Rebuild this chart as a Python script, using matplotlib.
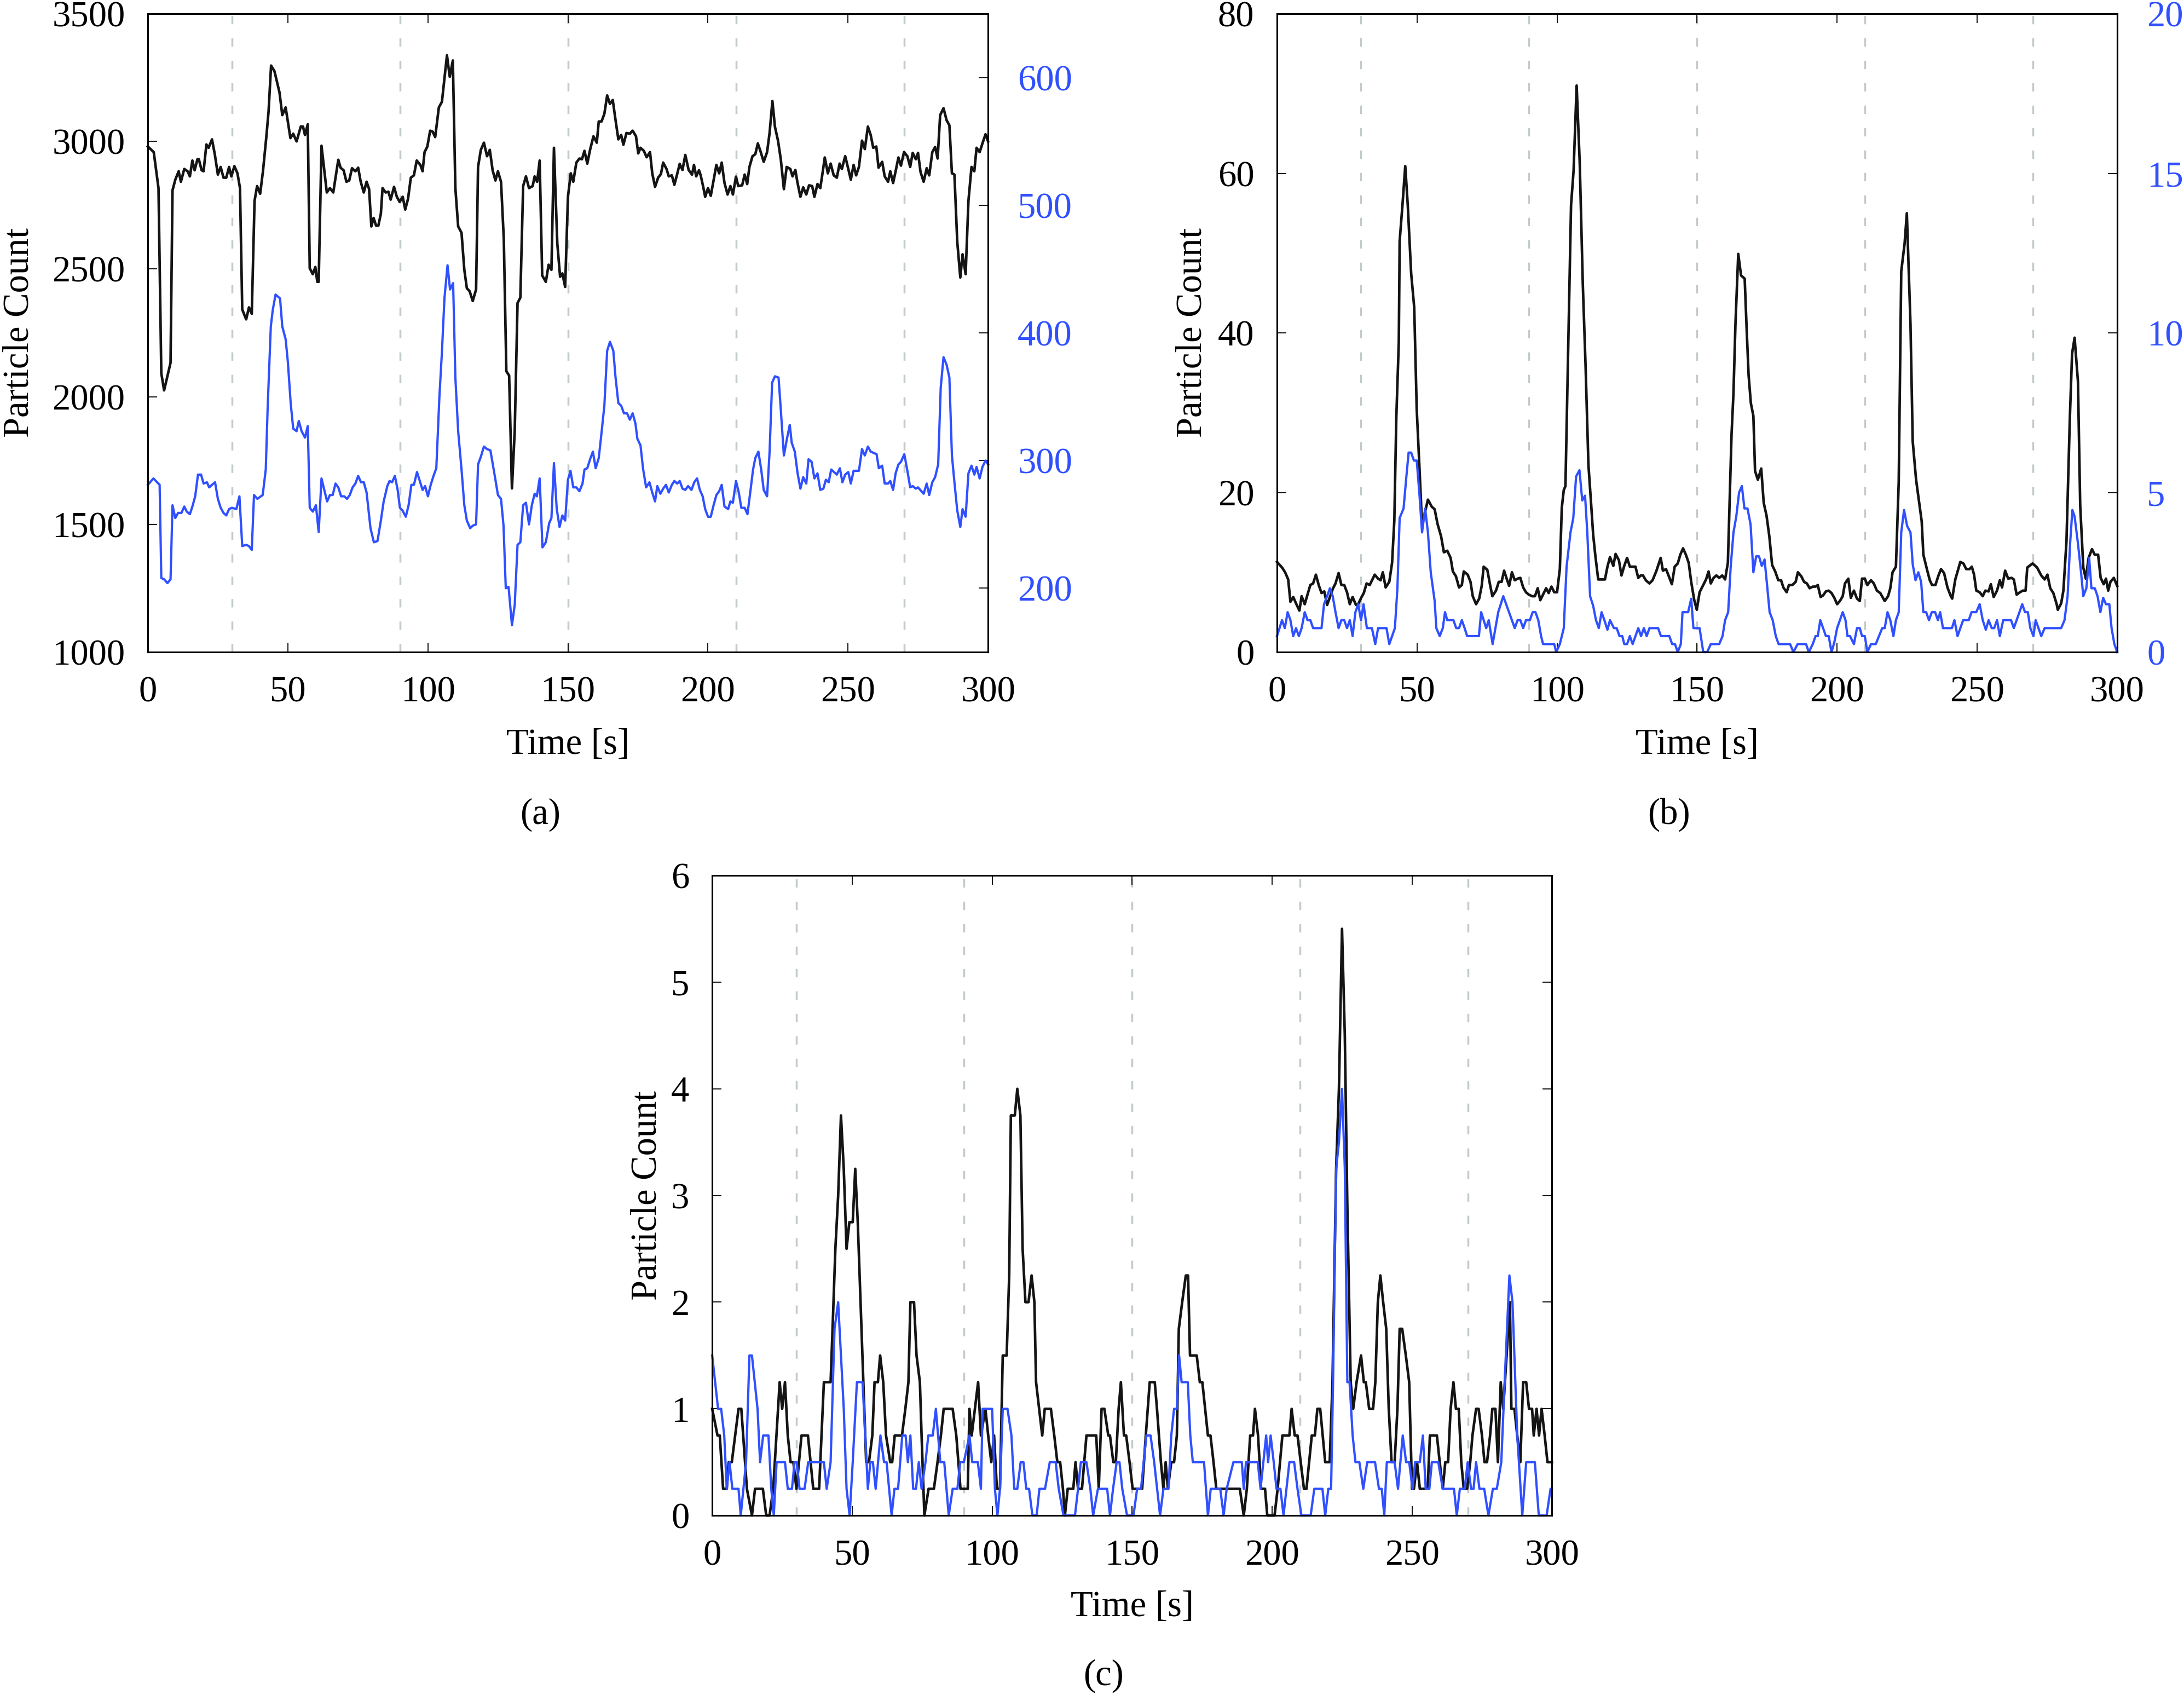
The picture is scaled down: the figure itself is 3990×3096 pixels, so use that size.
import numpy as np
import matplotlib
matplotlib.use('Agg')
import matplotlib.pyplot as plt

plt.rcParams['font.family'] = 'Liberation Serif'
plt.rcParams['font.size'] = 48

BLACK = '#141414'
BLUE = '#3050ff'
GREY = '#c3cacb'

# vertical event markers [s]
events = [30, 90, 150, 210, 270]

# (a) left axis (black) and right axis (blue): (time [s], count)
a_black = [
    (0, 2980), (2.1, 2958), (3.8, 2817), (4.8, 2092), (5.8, 2025), (8.1, 2133), (8.8, 2808),
    (9.8, 2850), (11.0, 2883), (11.8, 2842), (13.0, 2892), (14.2, 2883), (15.0, 2863),
    (15.9, 2925), (16.7, 2887), (17.7, 2930), (18.2, 2930), (19.2, 2887), (19.9, 2883),
    (20.9, 2988), (21.7, 2975), (22.9, 3008), (23.9, 2950), (25.0, 2870), (26.0, 2900),
    (27.0, 2858), (28.0, 2858), (29.0, 2900), (29.8, 2863), (30.9, 2903), (32.0, 2875),
    (32.9, 2817), (33.7, 2342), (35.1, 2303), (36.1, 2350), (37.1, 2325), (38.1, 2767),
    (39.0, 2825), (40.1, 2795), (41.1, 2883), (42.3, 3017), (43.1, 3117), (44.0, 3297),
    (45.2, 3275), (47.0, 3192), (48.0, 3103), (49.2, 3133), (50.9, 3013), (51.9, 3030),
    (53.1, 3000), (54.6, 3058), (55.4, 3058), (56.1, 3025), (57.1, 3067), (57.8, 2503),
    (58.9, 2480), (59.8, 2508), (60.5, 2450), (61.0, 2450), (62.0, 2983), (63.9, 2800),
    (65.0, 2817), (66.2, 2800), (68.0, 2928), (68.8, 2897), (69.9, 2887), (70.9, 2842),
    (71.9, 2847), (72.9, 2895), (74.1, 2883), (75.1, 2897), (76.0, 2842), (77.1, 2800),
    (78.1, 2842), (79.0, 2813), (79.8, 2667), (80.6, 2700), (81.5, 2670), (82.3, 2670),
    (83.2, 2717), (83.8, 2817), (84.9, 2800), (85.9, 2803), (86.7, 2772), (87.9, 2822),
    (88.9, 2783), (89.9, 2763), (91.0, 2783), (91.9, 2733), (92.9, 2775), (93.9, 2858),
    (95.0, 2867), (96.0, 2925), (97.3, 2908), (98.1, 2883), (98.8, 2958), (99.8, 2980),
    (100.8, 3042), (101.7, 3038), (102.6, 3017), (103.9, 3133), (105.0, 3155), (106.8, 3337),
    (107.8, 3253), (108.9, 3317), (109.8, 2817), (110.8, 2667), (112.0, 2642), (113.0, 2497),
    (113.9, 2425), (114.9, 2413), (116.0, 2375), (117.2, 2420), (117.9, 2900), (118.9, 2967),
    (120.0, 2995), (121.1, 2942), (122.1, 2967), (123.1, 2887), (124.1, 2847), (125.0, 2883),
    (126.1, 2842), (127.1, 2617), (128.0, 2100), (129.0, 2083), (130.0, 1641), (131.0, 1867),
    (132.0, 2367), (133.0, 2388), (134.0, 2825), (135.0, 2863), (136.1, 2817), (137.4, 2825),
    (138.1, 2863), (139.0, 2842), (139.9, 2925), (140.8, 2475), (142.1, 2450), (143.1, 2517),
    (144.1, 2497), (145.0, 2975), (146.2, 2600), (147.2, 2470), (148.0, 2483), (149.0, 2430),
    (150.0, 2783), (151.0, 2875), (151.9, 2842), (153.0, 2917), (154.1, 2933), (155.0, 2930),
    (155.9, 2963), (156.9, 2913), (157.9, 2967), (159.1, 3020), (160.3, 2995), (161.0, 3078),
    (162.0, 3078), (163.0, 3108), (164.0, 3180), (165.0, 3147), (166.0, 3162), (167.0, 3083),
    (168.0, 3008), (169.0, 3025), (169.8, 2987), (170.9, 3033), (172.1, 3030), (173.1, 3042),
    (174.3, 3020), (175.1, 2953), (175.9, 2975), (177.1, 2963), (178.1, 2938), (179.3, 2958),
    (180.1, 2875), (181.1, 2822), (182.2, 2858), (183.2, 2872), (184.0, 2917), (185.2, 2892),
    (186.0, 2863), (187.1, 2867), (188.0, 2830), (189.0, 2872), (189.9, 2912), (190.9, 2888),
    (191.9, 2947), (193.1, 2888), (194.3, 2870), (195.0, 2908), (195.8, 2863), (196.8, 2887),
    (197.4, 2867), (198.3, 2822), (199.0, 2783), (200.0, 2817), (201.0, 2787), (203.0, 2908),
    (204.0, 2875), (204.9, 2917), (205.9, 2837), (207.0, 2792), (208.0, 2825), (208.9, 2792),
    (210.0, 2862), (210.8, 2825), (212.2, 2828), (213.1, 2870), (214.0, 2833), (214.8, 2900),
    (215.9, 2942), (216.9, 2950), (217.8, 2992), (218.7, 2963), (219.9, 2920), (221.1, 2958),
    (222.0, 3033), (223.0, 3158), (223.9, 3058), (225.0, 3003), (226.0, 2930), (227.1, 2813),
    (228.1, 2900), (229.4, 2892), (230.2, 2863), (231.2, 2888), (231.9, 2842), (233.0, 2783),
    (234.0, 2820), (235.1, 2792), (236.1, 2828), (237.2, 2825), (238.0, 2783), (239.1, 2833),
    (240.1, 2817), (241.0, 2883), (241.7, 2937), (242.8, 2875), (243.8, 2913), (244.9, 2867),
    (246.0, 2858), (247.0, 2913), (247.8, 2892), (249.0, 2942), (250.1, 2892), (251.0, 2850),
    (252.0, 2908), (252.9, 2867), (253.9, 2900), (255.0, 3003), (256.0, 2970), (257.1, 3058),
    (258.1, 3025), (259.0, 2975), (260.1, 2980), (260.9, 2897), (262.2, 2920), (263.1, 2863),
    (264.3, 2842), (265.1, 2883), (266.1, 2837), (267.0, 2883), (268.0, 2937), (268.9, 2905),
    (270.0, 2958), (271.2, 2942), (272.2, 2900), (273.1, 2955), (274.2, 2930), (275.0, 2955),
    (275.9, 2880), (277.0, 2842), (278.1, 2895), (279.0, 2867), (280.1, 2958), (281.1, 2978),
    (282.0, 2933), (282.9, 3103), (284.1, 3130), (285.2, 3083), (286.2, 3063), (287.1, 2875),
    (288.0, 2870), (289.0, 2608), (290.1, 2467), (290.9, 2558), (292.0, 2480), (293.0, 2767),
    (294.1, 2900), (295.1, 2883), (295.9, 2975), (297.0, 2958), (298.0, 2992), (299.1, 3028),
    (300.0, 3000),
]
a_blue = [
    (0, 281), (2.0, 286), (3.3, 283), (4.2, 281), (4.8, 208), (5.8, 207), (7.0, 204), (8.1, 207),
    (8.8, 265), (9.8, 255), (10.8, 259), (12.0, 259), (13.0, 264), (13.9, 260), (15.0, 258),
    (15.9, 264), (16.9, 272), (17.9, 289), (19.0, 289), (19.9, 282), (21.1, 283), (21.9, 279),
    (22.9, 281), (24.0, 283), (25.0, 270), (26.0, 263), (27.0, 259), (28.0, 257), (29.0, 262),
    (30.0, 263), (31.6, 262), (32.7, 272), (33.7, 233), (35.1, 234), (36.1, 233), (37.1, 230),
    (37.9, 273), (39.1, 270), (41.0, 273), (42.1, 293), (42.8, 343), (43.9, 405), (44.6, 418),
    (45.6, 430), (47.2, 427), (48.0, 405), (49.2, 395), (50.0, 377), (51.0, 345), (51.9, 325),
    (53.1, 323), (53.9, 331), (54.9, 323), (56.1, 318), (57.1, 327), (57.8, 263), (58.9, 260),
    (60.0, 265), (61.0, 244), (62.0, 286), (63.0, 277), (64.0, 268), (65.0, 273), (66.0, 273),
    (67.0, 282), (68.0, 279), (69.0, 272), (70.1, 272), (71.1, 270), (72.1, 273), (73.1, 279),
    (74.1, 282), (75.1, 288), (76.1, 283), (77.1, 283), (78.1, 275), (79.5, 247), (80.7, 236),
    (82.0, 237), (83.2, 253), (84.2, 268), (85.5, 280), (86.3, 284), (87.2, 283), (88.2, 288),
    (89.2, 277), (90.0, 263), (90.9, 261), (92.1, 256), (93.1, 265), (94.1, 281), (95.0, 281),
    (96.1, 291), (97.1, 284), (98.1, 277), (99.0, 280), (100.0, 272), (101.0, 281), (102.0, 288),
    (103.0, 294), (104.1, 350), (105.0, 385), (105.9, 427), (107.0, 453), (107.9, 434),
    (109.0, 439), (109.8, 365), (110.8, 323), (112.0, 293), (113.0, 265), (113.9, 253),
    (115.1, 247), (116.0, 249), (117.2, 250), (117.9, 297), (118.9, 303), (120.0, 311),
    (121.1, 309), (122.3, 308), (123.1, 298), (124.1, 285), (125.0, 273), (126.1, 270),
    (127.0, 249), (127.8, 200), (128.8, 201), (130.0, 171), (131.0, 187), (132.0, 234),
    (133.0, 236), (134.0, 265), (135.0, 267), (136.1, 250), (137.1, 265), (138.1, 274),
    (138.9, 272), (139.9, 286), (140.9, 232), (142.1, 236), (143.3, 251), (144.1, 255),
    (145.0, 298), (146.0, 262), (147.0, 248), (148.0, 257), (149.0, 253), (150.0, 285),
    (150.9, 292), (151.9, 279), (153.0, 279), (154.1, 276), (155.2, 282), (155.9, 293),
    (156.9, 294), (157.9, 301), (158.9, 307), (159.9, 294), (161.0, 302), (162.0, 322),
    (163.0, 343), (164.0, 386), (165.0, 393), (166.2, 386), (167.0, 365), (168.0, 345),
    (169.0, 343), (170.0, 337), (171.1, 337), (172.1, 332), (173.1, 337), (174.1, 329),
    (174.8, 317), (175.9, 312), (176.8, 294), (177.9, 279), (179.1, 283), (180.1, 275),
    (181.1, 268), (181.9, 280), (183.0, 274), (184.0, 278), (185.0, 281), (186.0, 275),
    (187.1, 281), (188.0, 284), (189.0, 282), (189.9, 284), (190.9, 278), (191.9, 277),
    (192.9, 280), (194.1, 277), (195.1, 283), (196.1, 286), (197.1, 277), (198.1, 272),
    (199.0, 262), (200.0, 256), (201.0, 256), (202.0, 265), (203.0, 273), (204.0, 276),
    (204.9, 281), (205.9, 264), (207.2, 262), (208.0, 268), (208.9, 267), (210.0, 284),
    (211.0, 275), (211.9, 263), (213.1, 263), (214.1, 258), (215.2, 277), (216.1, 293),
    (216.9, 302), (218.0, 307), (219.0, 293), (219.9, 277), (221.1, 272), (222.0, 307),
    (222.9, 361), (223.9, 366), (225.2, 365), (226.0, 340), (227.1, 304), (228.1, 316),
    (229.2, 328), (229.9, 314), (231.0, 307), (232.0, 290), (233.0, 278), (234.0, 287),
    (235.1, 282), (235.9, 301), (237.0, 299), (238.0, 286), (239.1, 290), (240.1, 277),
    (241.2, 278), (242.1, 285), (243.1, 283), (244.0, 293), (245.0, 291), (246.0, 289),
    (247.1, 294), (248.0, 283), (249.0, 289), (250.1, 291), (251.0, 282), (252.0, 292),
    (253.9, 292), (255.0, 309), (256.0, 304), (257.1, 311), (258.1, 307), (260.2, 305),
    (261.0, 294), (262.2, 296), (263.1, 282), (264.3, 282), (265.1, 284), (266.1, 277),
    (267.0, 290), (268.0, 297), (268.9, 299), (270.1, 305), (271.2, 292), (272.2, 279),
    (273.1, 280), (274.2, 278), (275.0, 279), (277.0, 274), (278.1, 282), (279.0, 273),
    (280.1, 283), (281.1, 287), (282.2, 297), (283.1, 357), (284.1, 381), (285.2, 375),
    (286.2, 365), (287.1, 304), (288.0, 283), (289.0, 261), (290.1, 248), (290.9, 262),
    (292.0, 256), (293.0, 290), (294.1, 296), (295.1, 289), (295.9, 295), (297.0, 286),
    (298.0, 295), (299.1, 300), (300.0, 297),
]

# (b)
b_black = [
    (0, 11.3), (1.8, 10.6), (2.9, 10.0), (4.0, 9.1), (4.8, 6.3), (5.8, 6.9), (6.8, 6.1), (8.0, 5.2),
    (8.8, 7.0), (9.9, 6.0), (10.9, 7.2), (11.9, 8.4), (12.9, 8.6), (13.9, 9.7), (14.9, 8.4),
    (15.9, 7.4), (16.9, 7.6), (17.9, 5.9), (18.9, 6.9), (19.9, 7.9), (20.9, 8.6), (22.0, 9.9),
    (23.0, 8.4), (24.0, 8.4), (25.0, 7.5), (26.0, 6.0), (27.0, 6.9), (28.2, 5.9), (29.0, 6.0),
    (30.2, 6.9), (31.0, 7.4), (32.0, 8.6), (33.1, 8.4), (34.9, 9.7), (36.1, 9.2), (37.0, 9.0),
    (37.8, 10.0), (38.8, 8.1), (40.1, 8.8), (41.1, 11.2), (41.9, 16.5), (42.6, 29.3),
    (43.5, 38.9), (43.8, 51.5), (44.8, 56.0), (45.8, 60.9), (46.7, 56.0), (47.9, 47.5),
    (49.0, 43.2), (49.9, 30.4), (50.9, 22.9), (51.8, 15.9), (52.9, 17.6), (53.9, 19.1),
    (55.3, 18.2), (56.3, 17.9), (57.3, 16.1), (58.6, 14.5), (59.6, 12.5), (60.8, 12.7),
    (62.0, 11.8), (62.8, 10.1), (63.9, 9.5), (65.0, 8.1), (66.0, 8.4), (66.7, 10.1), (68.1, 9.7),
    (69.1, 8.8), (69.9, 7.0), (71.1, 6.0), (72.2, 6.7), (73.1, 8.3), (73.8, 10.7), (75.1, 10.3),
    (76.1, 8.4), (76.9, 7.0), (78.2, 7.7), (79.2, 8.8), (80.2, 8.8), (81.1, 10.2), (82.1, 9.1),
    (82.9, 8.3), (83.9, 10.0), (84.9, 9.0), (85.9, 9.2), (86.9, 9.3), (87.9, 8.1), (88.9, 7.5),
    (89.9, 7.2), (91.1, 7.0), (92.1, 7.0), (93.1, 8.0), (94.0, 6.5), (95.0, 7.2), (96.1, 8.0),
    (97.0, 7.4), (98.0, 8.2), (99.0, 7.5), (100.0, 7.5), (101.0, 10.4), (101.7, 18.1),
    (102.4, 20.3), (103.0, 20.8), (104.0, 38.5), (105.0, 56.0), (105.9, 60.3), (107.0, 71.0),
    (108.1, 61.3), (109.2, 46.1), (110.2, 35.7), (111.2, 23.5), (112.2, 18.4), (112.9, 14.7),
    (113.7, 12.0), (114.7, 9.1), (115.9, 9.1), (117.1, 9.1), (118.0, 10.7), (118.9, 11.9),
    (120.1, 10.8), (120.9, 12.3), (122.1, 11.5), (123.0, 9.6), (124.0, 10.8), (125.0, 11.8),
    (126.0, 10.7), (128.0, 10.7), (129.0, 9.3), (129.9, 9.6), (130.7, 9.6), (131.7, 9.0),
    (133.0, 8.6), (134.1, 9.0), (135.4, 10.1), (137.0, 11.8), (137.8, 10.2), (138.9, 10.4),
    (139.8, 9.6), (141.0, 8.5), (142.0, 10.7), (143.1, 11.1), (144.0, 12.2), (145.0, 13.0),
    (146.0, 12.2), (147.0, 11.2), (147.9, 8.8), (149.0, 6.5), (149.9, 5.3), (150.9, 7.5),
    (152.2, 8.4), (153.2, 9.1), (154.1, 10.1), (154.9, 8.6), (155.9, 9.3), (156.9, 9.6),
    (157.9, 9.3), (159.0, 9.6), (160.0, 9.1), (161.0, 11.2), (161.6, 18.7), (162.3, 27.2),
    (163.0, 32.5), (163.7, 41.1), (164.7, 49.9), (165.7, 47.2), (167.0, 46.8), (167.7, 40.5),
    (168.4, 34.7), (169.2, 31.2), (170.1, 29.6), (170.7, 22.7), (171.7, 21.6), (172.9, 23.0),
    (173.8, 18.7), (174.8, 17.1), (175.8, 14.5), (176.8, 10.9), (177.9, 10.1), (179.0, 9.0),
    (180.0, 9.0), (180.8, 8.1), (182.0, 7.5), (182.8, 8.4), (184.0, 8.4), (185.2, 8.8),
    (186.0, 10.0), (187.2, 9.5), (188.2, 8.8), (189.2, 8.6), (190.2, 8.0), (191.3, 8.2),
    (192.3, 8.2), (193.1, 8.4), (194.1, 6.9), (195.0, 7.1), (196.0, 7.6), (197.0, 7.7),
    (198.0, 7.4), (199.0, 6.8), (200.0, 6.0), (201.0, 6.4), (202.0, 7.0), (202.8, 8.6),
    (204.0, 9.2), (204.9, 6.8), (206.0, 7.7), (207.1, 6.7), (208.1, 6.4), (208.9, 9.2),
    (209.9, 9.2), (210.8, 8.4), (212.1, 9.0), (213.1, 8.6), (214.2, 7.7), (215.4, 7.4),
    (217.0, 6.4), (218.2, 7.0), (219.0, 8.0), (219.8, 10.0), (221.0, 10.7), (222.0, 21.3),
    (222.9, 47.7), (224.1, 51.2), (224.9, 55.0), (226.2, 41.1), (227.0, 26.4), (228.2, 21.6),
    (230.2, 16.4), (230.8, 12.2), (232.2, 10.2), (233.1, 9.0), (233.9, 8.4), (235.1, 8.4),
    (236.2, 9.6), (237.1, 10.4), (238.2, 9.9), (239.4, 8.1), (240.6, 7.0), (241.1, 6.7),
    (242.2, 9.1), (244.0, 11.3), (245.1, 11.1), (246.1, 10.4), (247.3, 10.4), (248.1, 10.7),
    (248.9, 9.7), (249.7, 7.7), (250.9, 7.5), (252.0, 7.0), (252.9, 7.7), (254.1, 7.6),
    (254.9, 8.5), (255.9, 6.9), (257.1, 7.7), (258.1, 9.0), (258.9, 8.1), (260.0, 10.2),
    (261.1, 9.2), (262.3, 9.3), (263.1, 9.1), (264.1, 7.2), (265.3, 7.5), (266.3, 7.7),
    (267.3, 7.7), (267.9, 10.6), (269.8, 11.1), (271.4, 10.6), (272.9, 9.6), (274.1, 9.1),
    (275.1, 9.7), (276.1, 8.0), (277.2, 7.4), (278.4, 6.0), (278.8, 5.3), (280.0, 6.1),
    (280.8, 7.7), (281.9, 13.9), (283.1, 29.3), (283.9, 37.4), (284.8, 39.4), (286.0, 33.9),
    (286.8, 18.4), (287.9, 10.6), (288.8, 9.2), (289.8, 11.8), (291.0, 12.9), (292.0, 12.2),
    (293.2, 12.2), (294.1, 9.3), (295.2, 8.5), (296.0, 9.2), (296.8, 7.7), (297.6, 8.8),
    (298.8, 9.3), (300.0, 8.3),
]
b_blue = [
    (0, 0.5), (1.8, 1.0), (2.8, 0.75), (3.8, 1.25), (4.8, 1.0), (5.8, 0.5), (6.8, 0.75), (7.8, 0.5),
    (8.8, 0.75), (9.9, 1.25), (10.9, 1.0), (11.9, 1.0), (12.9, 0.75), (15.9, 0.75), (16.8, 1.5),
    (17.9, 1.75), (18.9, 2.0), (19.9, 1.75), (20.9, 1.25), (22.0, 0.75), (23.0, 1.0), (24.0, 1.0),
    (25.0, 0.75), (26.0, 1.0), (27.0, 0.5), (28.0, 1.25), (29.0, 1.5), (30.0, 1.0), (30.9, 1.5),
    (32.1, 0.75), (33.9, 0.75), (35.1, 0.25), (36.1, 0.75), (39.1, 0.75), (40.1, 0.25),
    (42.1, 0.75), (43.0, 2.0), (43.8, 4.2), (45.2, 4.5), (46.2, 5.5), (47.0, 6.25), (47.9, 6.25),
    (48.9, 6.0), (49.9, 6.0), (50.9, 4.9), (51.8, 3.75), (52.9, 4.5), (53.9, 3.75), (54.9, 2.5),
    (56.3, 1.6), (56.9, 0.75), (58.1, 0.5), (59.2, 0.75), (60.0, 1.25), (60.8, 1.0), (63.0, 1.0),
    (64.0, 0.75), (65.0, 0.75), (66.0, 1.0), (67.0, 0.75), (67.9, 0.5), (72.1, 0.5), (72.9, 1.25),
    (73.8, 1.0), (74.7, 0.75), (75.6, 1.0), (77.0, 0.25), (78.0, 0.75), (79.0, 1.25), (80.8, 1.75),
    (84.9, 0.75), (85.9, 1.0), (86.9, 1.0), (87.9, 0.75), (88.9, 1.0), (90.3, 1.0), (91.3, 1.25),
    (92.3, 1.25), (93.3, 1.0), (94.3, 0.5), (95.0, 0.25), (99.0, 0.25), (99.7, 0.0), (101.0, 0.25),
    (102.4, 0.75), (103.4, 2.67), (104.8, 3.75), (105.8, 4.2), (106.8, 5.5), (108.0, 5.7),
    (109.0, 4.75), (110.0, 4.9), (110.8, 3.75), (111.8, 1.75), (112.9, 1.45), (113.9, 1.0),
    (114.9, 0.75), (115.9, 1.25), (116.9, 1.0), (118.0, 0.7), (118.9, 1.0), (120.3, 0.75),
    (121.3, 0.75), (122.3, 0.5), (123.3, 0.5), (124.0, 0.25), (125.0, 0.25), (126.0, 0.5),
    (127.0, 0.25), (129.0, 0.75), (130.0, 0.5), (131.0, 0.75), (132.0, 0.5), (133.0, 0.75),
    (136.1, 0.75), (137.1, 0.5), (140.1, 0.5), (141.1, 0.25), (142.1, 0.25), (143.1, 0.0),
    (144.2, 0.25), (144.8, 1.25), (146.8, 1.25), (147.9, 1.67), (148.7, 0.75), (150.9, 0.75),
    (152.2, 0.0), (153.6, 0.0), (154.9, 0.25), (157.9, 0.25), (159.1, 0.5), (160.0, 1.0),
    (161.1, 1.25), (162.0, 2.67), (163.0, 3.75), (164.0, 4.25), (165.0, 5.0), (166.0, 5.2),
    (166.9, 4.5), (168.0, 4.5), (169.1, 4.0), (170.1, 2.5), (171.1, 3.0), (172.1, 3.0),
    (173.1, 2.7), (174.1, 2.9), (175.1, 2.0), (175.9, 1.25), (177.0, 1.0), (178.1, 0.5),
    (179.1, 0.25), (183.2, 0.25), (184.4, 0.0), (185.9, 0.25), (188.9, 0.25), (189.9, 0.0),
    (191.3, 0.25), (192.3, 0.5), (193.1, 0.5), (194.0, 1.0), (195.0, 0.75), (196.0, 0.5),
    (197.0, 0.5), (198.0, 0.0), (199.0, 0.3), (200.0, 0.75), (201.0, 1.0), (202.0, 1.25),
    (203.0, 1.0), (203.7, 0.5), (204.6, 0.5), (206.0, 0.25), (207.1, 0.75), (208.1, 0.75),
    (208.9, 0.5), (209.9, 0.5), (210.8, 0.0), (212.1, 0.25), (213.8, 0.25), (216.1, 0.75),
    (217.0, 0.75), (218.0, 1.25), (219.0, 1.0), (220.1, 0.5), (221.0, 1.0), (222.0, 1.25),
    (222.9, 3.75), (223.9, 4.45), (225.0, 3.95), (226.2, 3.75), (227.0, 2.75), (228.0, 2.25),
    (229.0, 2.5), (230.0, 2.2), (230.8, 1.25), (231.8, 1.25), (232.8, 1.0), (233.8, 1.25),
    (235.0, 1.25), (236.0, 1.0), (236.8, 1.25), (237.8, 0.75), (241.0, 0.75), (241.9, 1.0),
    (243.0, 0.5), (245.0, 1.0), (247.0, 1.0), (248.0, 1.25), (249.7, 1.25), (250.9, 1.5),
    (252.0, 1.0), (253.1, 0.7), (254.1, 1.0), (255.2, 0.75), (256.1, 0.75), (257.1, 1.0),
    (258.1, 0.5), (259.3, 1.0), (262.1, 1.0), (263.1, 0.75), (266.1, 1.5), (267.1, 1.25),
    (268.1, 1.25), (269.0, 0.75), (270.1, 0.5), (270.9, 1.0), (272.9, 0.5), (274.1, 0.75),
    (280.0, 0.75), (281.2, 1.0), (282.3, 1.75), (283.2, 3.4), (284.0, 4.45), (284.8, 4.25),
    (286.0, 3.4), (287.1, 2.5), (287.9, 1.75), (289.0, 2.0), (290.0, 2.95), (290.8, 2.0),
    (292.0, 2.0), (293.0, 1.75), (294.0, 1.25), (295.0, 1.7), (296.0, 1.5), (297.2, 1.5),
    (298.0, 0.75), (299.0, 0.25), (300.0, 0.0),
]

# (c)
c_black = [
    (0, 1.0), (1.9, 0.75), (2.7, 0.75), (3.9, 0.25), (5.2, 0.25), (5.9, 0.5), (7.0, 0.5), (9.4, 1.0),
    (10.4, 1.0), (12.4, 0.25), (14.2, 0), (15.3, 0.25), (18.1, 0.25), (19.3, 0), (20.5, 0),
    (21.8, 0.25), (24.1, 1.25), (25.0, 1.0), (26.0, 1.25), (27.0, 0.75), (28.0, 0.5), (29.0, 0.5),
    (30.1, 0.25), (31.9, 0.75), (34.2, 0.75), (36.1, 0.25), (38.2, 0.25), (39.9, 1.25),
    (42.3, 1.25), (43.0, 1.75), (44.0, 2.5), (45.0, 3.0), (46.0, 3.75), (47.0, 3.25), (48.0, 2.5),
    (49.0, 2.75), (50.2, 2.75), (51.1, 3.25), (52.0, 2.75), (53.0, 2.0), (54.0, 1.25), (55.0, 0.5),
    (56.0, 0.5), (57.2, 0.75), (58.0, 1.25), (59.2, 1.25), (60.0, 1.5), (61.1, 1.25), (62.1, 0.75),
    (63.6, 0.5), (64.3, 0.5), (65.2, 0.75), (67.8, 0.75), (69.0, 1.0), (70.1, 1.25), (70.8, 2.0),
    (72.1, 2.0), (73.0, 1.5), (74.2, 1.25), (74.8, 0.75), (75.8, 0), (77.3, 0.25), (79.2, 0.25),
    (80.5, 0.5), (81.7, 0.75), (82.7, 1.0), (85.9, 1.0), (87.2, 0.75), (88.7, 0.25), (91.3, 0.25),
    (91.9, 1.0), (92.7, 0.75), (95.0, 1.25), (96.0, 0.75), (97.6, 1.0), (98.6, 0.75), (99.7, 0.5),
    (100.7, 0.75), (101.7, 0.25), (102.8, 0.25), (103.8, 1.5), (105.2, 1.5), (106.1, 2.25),
    (106.7, 3.75), (108.1, 3.75), (109.0, 4.0), (110.1, 3.75), (110.9, 2.5), (111.9, 2.0),
    (113.0, 2.0), (114.1, 2.25), (115.1, 2.0), (115.7, 1.25), (117.9, 0.75), (118.8, 1.0),
    (121.0, 1.0), (122.2, 0.75), (123.3, 0.5), (124.3, 0.5), (125.3, 0.25), (126.0, 0),
    (127.0, 0.25), (129.0, 0.25), (129.8, 0.5), (130.7, 0.25), (132.1, 0.25), (133.7, 0.75),
    (137.2, 0.75), (138.1, 0.25), (139.1, 1.0), (140.1, 1.0), (141.5, 0.75), (142.1, 0.75),
    (143.3, 0.5), (144.2, 0.5), (145.2, 1.0), (146.0, 1.25), (147.1, 0.75), (147.9, 0.75),
    (149.1, 0.5), (150.2, 0.25), (153.6, 0.25), (154.9, 0.75), (156.3, 1.25), (158.1, 1.25),
    (158.9, 1.0), (160.3, 0.5), (161.2, 0.25), (162.0, 0.5), (162.8, 0.25), (164.0, 0.5),
    (165.0, 0.5), (166.0, 0.75), (166.7, 1.75), (167.9, 2.0), (169.2, 2.25), (170.0, 2.25),
    (170.7, 1.5), (173.1, 1.5), (174.2, 1.25), (175.1, 1.25), (177.1, 0.75), (178.0, 0.75),
    (179.1, 0.5), (180.1, 0.25), (188.5, 0.25), (189.9, 0), (191.0, 0.25), (192.2, 0.75),
    (193.2, 0.75), (193.9, 1.0), (195.0, 0.75), (196.1, 0.25), (197.5, 0.25), (198.3, 0),
    (200.9, 0), (202.0, 0.25), (203.7, 0.75), (206.2, 0.75), (207.0, 1.0), (208.1, 0.75),
    (209.1, 0.75), (211.4, 0.25), (212.3, 0.25), (214.2, 0.75), (215.3, 0.75), (216.2, 1.0),
    (217.2, 1.0), (219.0, 0.5), (220.6, 0.5), (221.6, 1.25), (222.9, 3.25), (223.9, 4.0),
    (225.0, 5.5), (226.0, 4.5), (226.9, 2.9), (228.1, 1.25), (229.0, 1.0), (230.2, 1.25),
    (231.8, 1.5), (232.8, 1.25), (233.5, 1.25), (234.7, 1.0), (236.1, 1.0), (236.9, 1.25),
    (237.8, 2.0), (238.7, 2.25), (239.7, 2.0), (240.8, 1.75), (241.7, 1.0), (242.7, 0.5),
    (243.8, 0.5), (244.8, 1.0), (245.6, 1.75), (246.5, 1.75), (247.8, 1.5), (249.0, 1.25),
    (250.0, 0.25), (250.7, 0.25), (251.8, 0.5), (252.8, 0.25), (255.6, 0.25), (256.4, 0.75),
    (258.9, 0.75), (259.9, 0.5), (261.0, 0.25), (261.9, 0.5), (262.9, 0.5), (263.8, 1.0),
    (264.8, 1.25), (265.7, 1.0), (266.7, 1.0), (267.6, 0.5), (268.5, 0.25), (269.7, 0.25),
    (270.8, 0.5), (271.6, 0.75), (272.9, 1.0), (273.8, 1.0), (275.0, 0.75), (275.9, 0.5),
    (276.8, 0.5), (277.9, 0.75), (278.7, 1.0), (279.8, 1.0), (280.7, 0.5), (281.7, 1.25),
    (282.6, 1.0), (283.8, 1.5), (285.0, 2.0), (285.5, 1.0), (286.6, 1.0), (287.6, 0.75),
    (288.7, 0.5), (289.7, 1.25), (290.8, 1.25), (291.8, 1.0), (292.9, 1.0), (293.5, 0.75),
    (294.5, 1.0), (295.4, 0.75), (296.3, 1.0), (297.4, 0.75), (298.4, 0.5), (300.0, 0.5),
]
c_blue = [
    (0, 1.5), (2.1, 1.0), (3.2, 1.0), (4.3, 0.75), (5.2, 0.25), (6.2, 0.5), (7.2, 0.25), (9.4, 0.25),
    (10.2, 0), (12.1, 0.5), (13.3, 1.5), (14.2, 1.5), (16.2, 1.0), (17.1, 0.5), (18.2, 0.75),
    (20.1, 0.75), (21.1, 0.25), (22.0, 0), (23.0, 0.5), (26.0, 0.5), (27.0, 0.25), (28.5, 0.25),
    (29.4, 0.5), (30.2, 0.5), (31.2, 0.25), (33.0, 0.25), (34.3, 0.5), (39.9, 0.5), (40.9, 0.25),
    (42.3, 0.5), (43.7, 1.75), (45.0, 2.0), (46.0, 1.5), (47.0, 1.0), (48.0, 0.25), (49.1, 0),
    (50.2, 0.5), (51.7, 1.25), (53.7, 1.25), (54.7, 0.75), (55.6, 0.25), (56.5, 0.5), (57.4, 0.5),
    (58.4, 0.25), (60.1, 0.75), (61.4, 0.5), (62.3, 0.5), (64.1, 0), (65.1, 0.25), (66.4, 0.25),
    (67.9, 0.75), (69.1, 0.75), (69.9, 0.5), (70.8, 0.75), (71.8, 0.25), (72.8, 0.25), (73.8, 0.5),
    (74.8, 0.25), (76.2, 0.5), (77.2, 0.75), (78.8, 0.75), (79.9, 1.0), (81.5, 0.5), (82.9, 0.5),
    (84.5, 0), (85.9, 0.25), (87.6, 0.25), (88.6, 0.5), (89.9, 0.5), (91.9, 0.75), (92.9, 0.5),
    (94.9, 0.5), (96.0, 0.25), (96.6, 1.0), (100.0, 1.0), (101.0, 0.25), (101.9, 0), (102.8, 0.25),
    (103.8, 1.0), (105.5, 1.0), (106.9, 0.75), (107.9, 0.25), (109.0, 0.25), (110.2, 0.5),
    (111.2, 0.5), (112.2, 0.25), (113.2, 0.25), (114.4, 0), (115.9, 0), (116.9, 0.25),
    (118.9, 0.25), (120.6, 0.5), (122.7, 0.5), (123.8, 0.25), (125.5, 0), (129.6, 0),
    (130.7, 0.25), (131.7, 0.5), (133.7, 0.5), (135.1, 0.25), (136.1, 0), (137.8, 0.25),
    (141.1, 0.25), (142.1, 0), (143.2, 0.25), (144.5, 0.5), (145.5, 0.5), (146.5, 0.25),
    (148.2, 0), (150.5, 0), (151.8, 0.25), (153.2, 0.25), (155.1, 0.75), (156.6, 0.75),
    (157.9, 0.5), (160.0, 0), (161.2, 0.25), (163.0, 0.25), (164.0, 0.75), (165.0, 1.0),
    (166.0, 1.0), (166.8, 1.5), (167.7, 1.25), (169.9, 1.25), (170.8, 0.75), (171.7, 0.5),
    (175.7, 0.5), (177.1, 0), (178.1, 0.25), (181.5, 0.25), (182.7, 0), (183.8, 0.25),
    (186.2, 0.5), (189.2, 0.5), (189.9, 0.25), (190.7, 0.5), (194.9, 0.5), (195.9, 0.25),
    (196.9, 0.5), (197.9, 0.75), (198.6, 0.5), (199.5, 0.75), (200.6, 0.5), (201.6, 0.25),
    (203.0, 0.25), (204.1, 0), (206.2, 0.5), (207.9, 0.5), (209.1, 0.25), (210.5, 0), (213.8, 0),
    (215.1, 0.25), (218.0, 0.25), (219.0, 0), (220.1, 0.25), (221.1, 0.25), (221.8, 1.25),
    (222.9, 3.25), (223.9, 3.5), (225.0, 4.0), (226.0, 3.25), (226.9, 1.25), (227.7, 1.25),
    (228.8, 0.75), (229.8, 0.5), (231.2, 0.5), (232.6, 0.25), (234.0, 0.5), (236.8, 0.5),
    (238.2, 0.25), (239.2, 0.25), (240.1, 0), (241.0, 0.5), (243.8, 0.5), (245.0, 0.25),
    (246.7, 0.75), (247.9, 0.5), (249.0, 0.5), (250.2, 0.25), (251.1, 0.5), (252.8, 0.5),
    (253.9, 0.75), (254.9, 0.25), (256.2, 0.25), (257.1, 0.5), (259.4, 0.5), (261.0, 0.25),
    (265.0, 0.25), (266.0, 0), (267.1, 0.25), (268.8, 0.25), (269.9, 0.5), (271.1, 0.25),
    (272.0, 0.25), (272.9, 0.5), (274.1, 0.25), (275.8, 0.25), (277.3, 0), (278.9, 0.25),
    (280.3, 0.25), (281.9, 0.5), (283.1, 1.25), (284.8, 2.25), (285.9, 2.0), (287.6, 0.75),
    (289.4, 0), (290.8, 0.5), (293.9, 0.5), (295.3, 0), (298.1, 0), (299.5, 0.25), (300.0, 0.25),
]


def unzip(pairs):
    t, v = zip(*pairs)
    return np.array(t), np.array(v)


def base_axes(ax, ylim, yticks, right_ticks=False):
    ax.set_xlim(0, 300)
    ax.set_xticks(np.arange(0, 301, 50))
    ax.set_ylim(*ylim)
    ax.set_yticks(yticks)
    for s in ax.spines.values():
        s.set_linewidth(2.2)
    ax.tick_params(direction='in', length=12, width=1.3, top=True, right=right_ticks)
    ax.tick_params(axis='x', pad=31)
    ax.tick_params(axis='y', pad=30)
    for x in events:
        ax.axvline(x, color=GREY, lw=2.5, dashes=(4.4, 7.4), zorder=0)
    ax.set_xlabel('Time [s]')
    ax.set_ylabel('Particle Count')


def twin_axes(ax, ylim, yticks):
    ax2 = ax.twinx()
    ax2.set_ylim(*ylim)
    ax2.set_yticks(yticks)
    for s in ax2.spines.values():
        s.set_linewidth(2.2)
    ax2.tick_params(axis='y', direction='in', length=12, width=1.3, pad=39, labelcolor=BLUE)
    return ax2


fig = plt.figure(figsize=(39.9, 30.96), dpi=100)

# (a)
ax = fig.add_axes([0.0677, 0.6153, 0.3847, 0.3766])
base_axes(ax, (1000, 3500), np.arange(1000, 3501, 500))
t, v = unzip(a_black)
ax.plot(t, v, color=BLACK, lw=3.4, clip_on=False)
ax2 = twin_axes(ax, (150, 650), np.arange(200, 601, 100))
t, v = unzip(a_blue)
ax2.plot(t, v, color=BLUE, lw=3.0, clip_on=False)
ax.xaxis.set_label_coords(0.5, -0.119)
ax.yaxis.set_label_coords(-0.1336, 0.5)

# (b)
ax = fig.add_axes([0.5847, 0.6153, 0.3847, 0.3766])
base_axes(ax, (0, 80), np.arange(0, 81, 20))
t, v = unzip(b_black)
ax.plot(t, v, color=BLACK, lw=3.4, clip_on=False)
ax2 = twin_axes(ax, (0, 20), np.arange(0, 21, 5))
t, v = unzip(b_blue)
ax2.plot(t, v, color=BLUE, lw=3.0, clip_on=False)
ax.xaxis.set_label_coords(0.5, -0.119)
ax.yaxis.set_label_coords(-0.0814, 0.5)

# (c)
ax = fig.add_axes([0.3261, 0.1059, 0.3845, 0.3776])
base_axes(ax, (0, 6), np.arange(0, 7, 1), right_ticks=True)
t, v = unzip(c_black)
ax.plot(t, v, color=BLACK, lw=3.4, clip_on=False)
t, v = unzip(c_blue)
ax.plot(t, v, color=BLUE, lw=3.0, clip_on=False)
ax.xaxis.set_label_coords(0.5, -0.117)
ax.yaxis.set_label_coords(-0.058, 0.5)

fig.text(0.2474, 0.5194, '(a)', ha='center', va='center')
fig.text(0.7642, 0.5194, '(b)', ha='center', va='center')
fig.text(0.5053, 0.0112, '(c)', ha='center', va='center')

fig.savefig('out.png', dpi=100)
